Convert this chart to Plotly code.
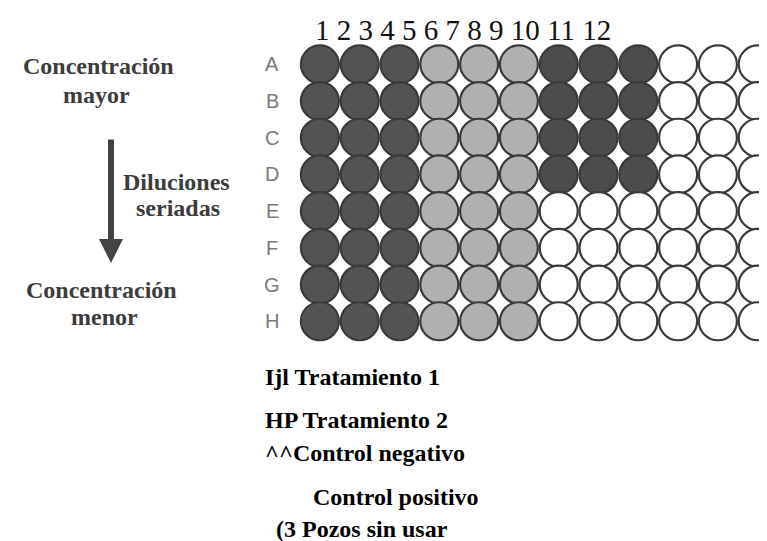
import plotly.graph_objects as go

# ---- data ----
row_labels = ["A", "B", "C", "D", "E", "F", "G", "H"]
col_labels = ["1", "2", "3", "4", "5", "6", "7", "8", "9", "10", "11", "12"]
# plate layout per row: T1 = Tratamiento 1, T2 = Tratamiento 2, CN = Control, U = sin usar
plate = [
    ["T1", "T1", "T1", "T2", "T2", "T2", "CN", "CN", "CN", "U", "U", "U"],
    ["T1", "T1", "T1", "T2", "T2", "T2", "CN", "CN", "CN", "U", "U", "U"],
    ["T1", "T1", "T1", "T2", "T2", "T2", "CN", "CN", "CN", "U", "U", "U"],
    ["T1", "T1", "T1", "T2", "T2", "T2", "CN", "CN", "CN", "U", "U", "U"],
    ["T1", "T1", "T1", "T2", "T2", "T2", "U", "U", "U", "U", "U", "U"],
    ["T1", "T1", "T1", "T2", "T2", "T2", "U", "U", "U", "U", "U", "U"],
    ["T1", "T1", "T1", "T2", "T2", "T2", "U", "U", "U", "U", "U", "U"],
    ["T1", "T1", "T1", "T2", "T2", "T2", "U", "U", "U", "U", "U", "U"],
]
group_colors = {"T1": "#535353", "T2": "#b0b0b0", "CN": "#4c4c4c", "U": "#ffffff"}
legend_lines = ["Ijl Tratamiento 1", "HP Tratamiento 2", "^^Control negativo",
                "Control positivo", "(3 Pozos sin usar"]

W, H = 767, 541

xs, ys, cs = [], [], []
for r, row in enumerate(plate):
    for c, g in enumerate(row):
        xs.append(c + 1)
        ys.append(r)
        cs.append(group_colors[g])

fig = go.Figure()
fig.add_trace(go.Scatter(
    x=xs, y=ys, mode="markers",
    marker=dict(size=38, color=cs, line=dict(color="#3a3a3a", width=2.2)),
    hoverinfo="skip", showlegend=False,
))

def px(x):
    return x / W

def py(y):
    return 1 - y / H

ann = []
serif = "Liberation Serif"
gray_txt = "#3c3c3c"

# column numbers header
ann.append(dict(text=" ".join(col_labels), x=px(305), y=py(22), xref="paper", yref="paper",
                xanchor="left", yanchor="middle", showarrow=False,
                font=dict(family=serif, size=29, color="#111")))

# row labels
for r, lab in enumerate(row_labels):
    ann.append(dict(text=lab, x=-0.2, y=r, xref="x", yref="y", xanchor="center",
                    yanchor="middle", showarrow=False,
                    font=dict(family="Liberation Sans", size=20, color="#7a7a7a")))

# left side texts
left_texts = [("<b>Concentración</b>", 90, 58), ("<b>mayor</b>", 88, 87),
              ("<b>Diluciones</b>", 168, 174), ("<b>seriadas</b>", 170, 200),
              ("<b>Concentración</b>", 93, 282), ("<b>menor</b>", 96, 309)]
for t, x, y in left_texts:
    ann.append(dict(text=t, x=px(x), y=py(y), xref="paper", yref="paper",
                    xanchor="center", yanchor="middle", showarrow=False,
                    font=dict(family=serif, size=24, color=gray_txt)))

# arrow
ann.append(dict(text="", x=px(103), y=py(255), ax=0, ay=-125,
                xref="paper", yref="paper", axref="pixel", ayref="pixel",
                showarrow=True, arrowhead=2, arrowsize=0.8, arrowwidth=6,
                arrowcolor="#444"))

# legend lines
leg_pos = [(256, 369), (256, 412), (256, 445), (304, 489), (267, 521)]
for t, (x, y) in zip(legend_lines, leg_pos):
    ann.append(dict(text="<b>" + t + "</b>", x=px(x), y=py(y), xref="paper", yref="paper",
                    xanchor="left", yanchor="middle", showarrow=False, borderpad=0,
                    font=dict(family=serif, size=24, color="#000")))

# axis ranges map data to pixel positions
x0 = -272.1 / 39.8
x1 = (W - 272.1) / 39.8
y_top = -56.35 / 36.7
y_bot = (H - 56.35) / 36.7

fig.update_layout(
    width=W, height=H, margin=dict(l=0, r=0, t=0, b=0),
    paper_bgcolor="white", plot_bgcolor="white",
    xaxis=dict(range=[x0, x1], visible=False, fixedrange=True),
    yaxis=dict(range=[y_bot, y_top], visible=False, fixedrange=True),
    annotations=ann, showlegend=False,
)
fig.write_html("out.html")
